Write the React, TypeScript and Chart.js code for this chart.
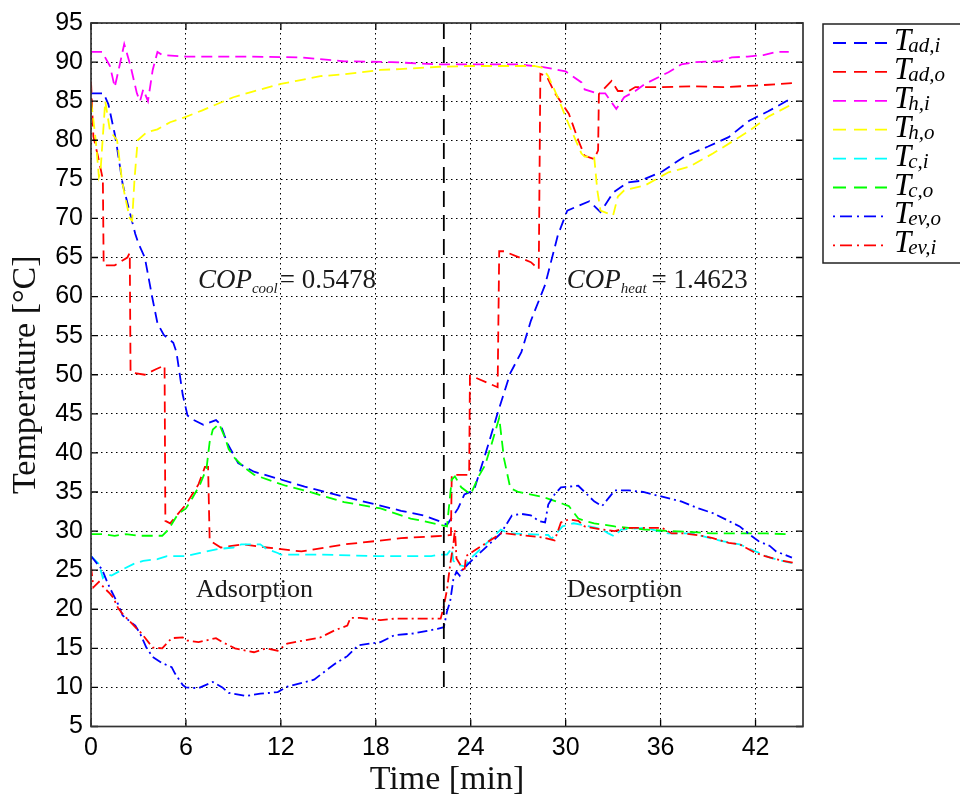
import React, { useEffect, useRef } from "react";
import { Chart, registerables } from "chart.js";

Chart.register(...registerables);

// ---------------- data (time in min, temperature in °C) ----------------
const tAdI = [0, 0.8, 1.1, 1.5, 1.65, 2.0, 2.2, 2.8, 3.0, 3.4, 3.9, 4.2, 4.6, 5.2, 5.4, 5.8, 6.1, 6.4, 7.1, 7.9, 8.2, 8.6, 9.3, 10.3, 12, 13.5, 15.8, 18, 19.6, 21, 22.1, 22.5, 23.2, 23.6, 24.2, 25.1, 25.7, 26.5, 27.2, 27.8, 28.7, 29.5, 30.1, 31.5, 32.2, 33.0, 33.9, 34.7, 36.1, 37.5, 39, 40.3, 41.6, 42.8, 44.3];
const vAdI = [86, 86, 84.6, 80.8, 79, 74.4, 72.8, 68, 66.8, 65, 59.6, 56.6, 55.1, 54.1, 52.9, 47.4, 44.8, 44.3, 43.6, 44.2, 43.6, 41.3, 38.7, 37.6, 36.6, 35.7, 34.5, 33.4, 32.6, 32, 31.2, 30.8, 32.9, 34.7, 35.2, 41, 45.1, 50.2, 52.9, 56.9, 61.5, 67.8, 71, 72.2, 70.8, 73.3, 74.6, 74.8, 76, 77.9, 79.2, 80.4, 82.5, 83.7, 85.4];

const tAdO = [0, 0.15, 0.5, 0.75, 0.8, 1.5, 2.3, 2.45, 2.5, 3.4, 4.1, 4.65, 4.7, 5.0, 6.0, 6.8, 7.2, 7.4, 7.5, 8.2, 9.6, 11.1, 13.3, 16, 17.9, 19.6, 22.3, 22.75, 22.8, 23.9, 23.95, 24.0, 25.7, 25.8, 26.1, 27.8, 28.3, 28.4, 28.8, 29.3, 30.2, 30.8, 31.2, 31.8, 32.05, 32.1, 32.9, 33.3, 34.0, 34.4, 36, 38, 40, 42, 44.3];
const vAdO = [87.5, 80.5, 77.4, 75, 64, 64, 65, 65.6, 50.3, 50, 50.7, 51.2, 31.3, 31, 33.4, 36, 38.2, 38.2, 28.8, 27.9, 28.3, 27.9, 27.4, 28.3, 28.7, 29.1, 29.4, 29.5, 37.2, 37.2, 49.9, 49.9, 48.4, 65.8, 65.8, 64.4, 63.5, 88.5, 88.2, 86.1, 83.4, 80, 78, 77.6, 78.7, 85.9, 87.6, 86.3, 86.3, 86.8, 86.8, 86.9, 86.8, 87, 87.3];

const tHI = [0, 0.7, 1.2, 1.5, 1.8, 2.1, 2.5, 2.9, 3.1, 3.3, 3.6, 3.9, 4.2, 4.5, 6, 10, 13.3, 16, 19, 22, 27, 28.5, 30, 31, 31.2, 32, 32.5, 33.2, 33.7, 34.4, 35, 36, 36.5, 37.3, 38.2, 39.7, 40.5, 41.5, 42.5, 43.3, 44.1];
const vHI = [91.3, 91.3, 89.5, 86.8, 89.5, 92.3, 89.5, 86, 85, 86.5, 85, 89, 91.3, 90.9, 90.7, 90.7, 90.6, 90.1, 90, 89.7, 89.7, 89.4, 88.8, 87.4, 86.5, 86, 86, 84, 85.5, 86.3, 87.2, 88.2, 88.7, 89.7, 90, 90.1, 90.6, 90.7, 90.9, 91.3, 91.3];

const tHO = [0, 0.1, 0.3, 0.5, 0.6, 0.9, 1.2, 1.65, 1.95, 2.15, 2.45, 2.6, 2.75, 2.95, 3.5, 4.2, 5, 6, 7, 9, 10, 12, 13, 14.5, 15.8, 18.3, 19.5, 22, 24, 28, 28.5, 28.9, 29.5, 30.2, 31, 31.2, 31.8, 32.0, 32.2, 33.0, 33.3, 33.7, 35, 36.5, 37.8, 39.3, 40.5, 41.6, 42.8, 44.3];
const vHO = [85, 83.5, 80, 75.3, 76, 85, 81.2, 80, 75, 72.8, 70, 69.7, 75, 80, 81, 81.4, 82.3, 83, 83.8, 85.5, 86.1, 87.2, 87.6, 88.2, 88.4, 89, 89.1, 89.4, 89.5, 89.5, 89.3, 88.2, 85.5, 82, 78.3, 77.9, 77.9, 73.6, 71, 70.4, 72.8, 73.6, 74.2, 75.9, 76.6, 78.3, 79.8, 81.2, 83, 84.6];

const tCI = [0, 0.5, 0.75, 1.0, 1.3, 2.0, 2.7, 3.3, 4.2, 4.8, 6.0, 6.9, 8.0, 9.0, 9.5, 10.7, 11.1, 11.8, 12, 14.5, 18, 21.5, 22.1, 22.5, 22.8, 22.9, 23.2, 23.6, 24.0, 25.9, 26.4, 28.9, 29.1, 29.8, 30.5, 31.5, 32.2, 32.7, 33.1, 33.5, 35, 36.5, 38, 39.9, 41, 42, 42.9, 43.7, 44.3];
const vCI = [26.8, 25.8, 24, 24.5, 24.3, 25.1, 25.8, 26.2, 26.4, 26.8, 26.8, 27.2, 27.7, 27.9, 28.3, 28.3, 27.7, 27.2, 27, 27, 26.8, 26.8, 27, 27, 27.8, 26.2, 25.7, 25.5, 26.5, 30.2, 29.7, 29.5, 29, 30.6, 31, 30.6, 30.3, 29.7, 29.3, 30.2, 30.4, 29.7, 29.7, 28.7, 28.3, 27.4, 26.6, 26.2, 25.9];

const tCO = [0, 0.7, 1.5, 2.2, 3.0, 4.5, 4.9, 5.5, 6.0, 6.4, 6.9, 7.3, 7.5, 7.7, 8.1, 8.5, 8.7, 9.1, 9.6, 10.3, 12.3, 13.5, 16, 18.3, 20.2, 21, 22.5, 22.8, 23.0, 23.4, 24.0, 24.5, 24.9, 25.3, 25.8, 26.1, 26.5, 27.0, 28.5, 29.1, 29.8, 30.2, 30.8, 31.2, 31.8, 33.1, 35, 36.5, 37.8, 39.3, 41, 42.7, 43.9];
const vCO = [29.6, 29.6, 29.4, 29.6, 29.4, 29.4, 30.2, 32.2, 32.9, 34.2, 36, 38, 41.4, 43, 43.7, 41.8, 40.5, 39.3, 38.3, 37.2, 35.8, 35.2, 33.7, 32.9, 31.6, 31.3, 30.6, 36.6, 37, 35.6, 34.7, 37, 38.4, 41, 44.5, 39.3, 35.5, 35, 34.4, 34, 33.5, 33.2, 31.6, 31.3, 31, 30.6, 30.2, 30, 29.9, 29.7, 29.7, 29.7, 29.6];

const tEvO = [0, 0.4, 0.7, 1.0, 1.2, 1.7, 2.0, 2.8, 3.1, 3.5, 3.9, 4.5, 5.1, 5.3, 5.8, 6.0, 6.8, 7.7, 8.3, 8.7, 9.8, 10.7, 11.8, 12.4, 14.1, 15.4, 16.2, 16.9, 18.3, 19.2, 20.4, 21.9, 22.3, 22.5, 22.7, 22.9, 23.1, 23.3, 23.4, 23.8, 24.2, 25.9, 26.6, 27.2, 27.8, 28.3, 28.7, 28.9, 29.3, 29.7, 30.8, 31.8, 32.3, 33.1, 34, 34.9, 36.1, 37.3, 38.4, 39.3, 40.3, 41, 41.6, 42.2, 42.9, 43.3, 44.3];
const vEvO = [26.8, 25.8, 25.1, 23.6, 22.7, 20.7, 19.2, 17.9, 16.9, 15.1, 13.9, 13.1, 12.6, 11.8, 10.3, 10, 9.9, 10.7, 10, 9.3, 8.9, 9.2, 9.4, 10.1, 11, 13, 14, 15.4, 15.8, 16.7, 16.9, 17.5, 17.7, 19.7, 21, 23.8, 24.8, 24.3, 24.9, 25.7, 26.5, 29.7, 32, 32.2, 32, 31.3, 31.1, 33.4, 34.7, 35.6, 35.8, 33.8, 33.2, 35.2, 35.2, 35, 34.4, 33.8, 32.9, 32.3, 31.3, 30.6, 29.6, 28.7, 28.1, 27.4, 26.6];

const tEvI = [0, 0.15, 0.5, 0.9, 1.2, 1.4, 1.7, 2.0, 2.8, 3.2, 3.9, 4.5, 5.1, 5.8, 6.1, 6.8, 7.9, 8.3, 9.1, 10.3, 11.1, 11.8, 12.4, 14.5, 15.4, 16.2, 16.4, 17, 18.3, 19.2, 22.1, 22.3, 22.5, 22.7, 22.9, 23.0, 23.1, 23.6, 23.7, 25.9, 26.2, 28.5, 29.3, 29.7, 30.2, 30.8, 31.2, 32.3, 33.1, 33.8, 36.1, 36.7, 37.5, 38.6, 39.3, 40.3, 41, 42, 42.6, 43.7, 44.5];
const vEvI = [25.5, 22.8, 23.5, 22.6, 22, 21.5, 20.2, 19.4, 17.7, 16.9, 15.1, 15, 16.3, 16.4, 16, 15.8, 16.3, 15.8, 15, 14.5, 15, 14.7, 15.6, 16.4, 17.3, 17.9, 18.9, 18.9, 18.6, 18.8, 18.8, 20.4, 22.5, 25.7, 28.3, 30.2, 26.5, 24.8, 26.8, 29.7, 29.7, 29.2, 28.8, 31.1, 31.5, 31.3, 30.6, 30.2, 30, 30.4, 30.4, 29.7, 29.7, 29.4, 29.1, 28.5, 28.3, 27.2, 26.8, 26.2, 25.9];

const switchTime = 22.3;
const switchRange = [95, 10];

const xTicks = [0, 6, 12, 18, 24, 30, 36, 42];
const yTicks = [5, 10, 15, 20, 25, 30, 35, 40, 45, 50, 55, 60, 65, 70, 75, 80, 85, 90, 95];

const legendSubs = ["ad,i", "ad,o", "h,i", "h,o", "c,i", "c,o", "ev,o", "ev,i"];

const copCool = "0.5478";
const copHeat = "1.4623";
const copCoolAt = [6.76, 61.1];
const copHeatAt = [30.07, 61.1];
const adsAt = [6.64, 21.6];
const desAt = [30.07, 21.6];

// ---------------- styles ----------------
const SERIF = '"Liberation Serif", "Times New Roman", serif';
const SANS = '"Liberation Sans", Arial, Helvetica, sans-serif';
const DASH = [11, 6];
const DASHDOT = [10, 4, 2, 4];

const series = [
  { t: tAdI, v: vAdI, color: "#0000ff", dash: DASH },
  { t: tAdO, v: vAdO, color: "#ff0000", dash: DASH },
  { t: tHI, v: vHI, color: "#ff00ff", dash: DASH },
  { t: tHO, v: vHO, color: "#ffff00", dash: DASH },
  { t: tCI, v: vCI, color: "#00ffff", dash: DASH },
  { t: tCO, v: vCO, color: "#00ff00", dash: DASH },
  { t: tEvO, v: vEvO, color: "#0000ff", dash: DASHDOT },
  { t: tEvI, v: vEvI, color: "#ff0000", dash: DASHDOT },
];

function pts(t: number[], v: number[]) {
  return t.map((x, i) => ({ x, y: v[i] }));
}

function drawMath(
  ctx: CanvasRenderingContext2D,
  x: number,
  y: number,
  main: string,
  sub: string,
  rest: string,
  mainSize: number,
  subSize: number,
  subDrop: number,
  subShift: number,
  restGap: number
) {
  ctx.font = `italic ${mainSize}px ${SERIF}`;
  ctx.fillText(main, x, y);
  let cx = x + ctx.measureText(main).width + subShift;
  ctx.font = `italic ${subSize}px ${SERIF}`;
  ctx.fillText(sub, cx, y + subDrop);
  cx += ctx.measureText(sub).width;
  if (rest) {
    ctx.font = `${mainSize}px ${SERIF}`;
    ctx.fillText(rest, cx + restGap, y);
  }
}

const overlay = {
  id: "overlay",
  afterDraw(chart: any) {
    const { ctx, chartArea: a, scales } = chart;
    const xs = scales.x;
    const ys = scales.y;
    ctx.save();
    ctx.setLineDash([]);
    // inward tick marks
    ctx.strokeStyle = "#000";
    ctx.lineWidth = 1.3;
    ctx.beginPath();
    for (const v of yTicks) {
      const y = ys.getPixelForValue(v);
      ctx.moveTo(a.left, y);
      ctx.lineTo(a.left + 7, y);
      ctx.moveTo(a.right, y);
      ctx.lineTo(a.right - 7, y);
    }
    for (const v of xTicks) {
      const x = xs.getPixelForValue(v);
      ctx.moveTo(x, a.bottom);
      ctx.lineTo(x, a.bottom - 7);
      ctx.moveTo(x, a.top);
      ctx.lineTo(x, a.top + 7);
    }
    ctx.stroke();
    // frame
    ctx.lineWidth = 1.7;
    ctx.strokeStyle = "#333";
    ctx.strokeRect(a.left, a.top, a.right - a.left, a.bottom - a.top);

    // annotations
    ctx.fillStyle = "#1a1a1a";
    ctx.textBaseline = "alphabetic";
    ctx.textAlign = "left";
    drawMath(ctx, xs.getPixelForValue(copCoolAt[0]), ys.getPixelForValue(copCoolAt[1]), "COP", "cool", "= " + copCool, 27, 15, 5, 0, 2);
    drawMath(ctx, xs.getPixelForValue(copHeatAt[0]), ys.getPixelForValue(copHeatAt[1]), "COP", "heat", "= " + copHeat, 27, 15, 5, 0, 5);
    ctx.font = `26px ${SERIF}`;
    ctx.fillText("Adsorption", xs.getPixelForValue(adsAt[0]), ys.getPixelForValue(adsAt[1]));
    ctx.fillText("Desorption", xs.getPixelForValue(desAt[0]), ys.getPixelForValue(desAt[1]));

    // legend
    const lx = a.right + 20;
    const ly = a.top + 1;
    ctx.lineWidth = 1.5;
    ctx.strokeStyle = "#222";
    ctx.strokeRect(lx, ly, 180, 239);
    series.forEach((s, i) => {
      const y = ly + 19 + i * 28.9;
      ctx.save();
      ctx.strokeStyle = s.color;
      ctx.lineWidth = 1.8;
      ctx.setLineDash(s.dash === DASH ? [13, 8] : [2, 5, 12, 5]);
      ctx.beginPath();
      ctx.moveTo(lx + 10, y);
      ctx.lineTo(lx + 64, y);
      ctx.stroke();
      ctx.restore();
      ctx.fillStyle = "#000";
      drawMath(ctx, lx + 71, y + 7, "T", legendSubs[i], "", 31, 21, 2, -3, 0);
    });
    ctx.restore();
  },
};

export default function App() {
  const ref = useRef<HTMLCanvasElement>(null);

  useEffect(() => {
    const datasets: any[] = series.map((s, i) => ({
      data: pts(s.t, s.v),
      borderColor: s.color,
      backgroundColor: s.color,
      borderDash: s.dash,
      borderWidth: 1.8,
      pointRadius: 0,
      tension: 0,
      fill: false,
      order: -i,
    }));
    datasets.push({
      data: [
        { x: switchTime, y: switchRange[0] },
        { x: switchTime, y: switchRange[1] },
      ],
      borderColor: "#000",
      borderDash: [16, 8],
      borderWidth: 1.8,
      pointRadius: 0,
      fill: false,
      order: -20,
    });

    const chart = new Chart(ref.current as HTMLCanvasElement, {
      type: "line",
      data: { datasets },
      options: {
        responsive: false,
        maintainAspectRatio: false,
        devicePixelRatio: 1,
        animation: false,
        events: [],
        layout: { padding: { top: 18, right: 157, bottom: 0, left: 0 } },
        plugins: { legend: { display: false }, tooltip: { enabled: false } },
        scales: {
          x: {
            type: "linear",
            min: 0,
            max: 45,
            afterBuildTicks: (s: any) => {
              s.ticks = xTicks.map((v) => ({ value: v }));
            },
            afterFit: (s: any) => {
              s.height = 75.5;
            },
            grid: { color: "#000", lineWidth: 1, drawTicks: false },
            border: { display: false, dash: [1.5, 3.5] },
            ticks: {
              font: { family: SANS, size: 25 },
              color: "#000",
              padding: 7,
              maxRotation: 0,
              autoSkip: false,
            },
            title: {
              display: true,
              text: "Time [min]",
              font: { family: SERIF, size: 34 },
              color: "#111",
              padding: { top: 0, bottom: 2 },
            },
          },
          y: {
            type: "linear",
            min: 5,
            max: 95,
            afterBuildTicks: (s: any) => {
              s.ticks = yTicks.map((v) => ({ value: v }));
            },
            afterFit: (s: any) => {
              s.width = 91;
            },
            grid: { color: "#000", lineWidth: 1, drawTicks: false },
            border: { display: false, dash: [1.5, 3.5] },
            ticks: {
              font: { family: SANS, size: 25 },
              color: "#000",
              padding: 8,
              autoSkip: false,
            },
            title: {
              display: true,
              text: "Temperature [°C]",
              font: { family: SERIF, size: 34 },
              color: "#111",
              padding: { top: 6, bottom: 0 },
            },
          },
        },
      },
      plugins: [overlay],
    } as any);
    return () => chart.destroy();
  }, []);

  return (
    <div style={{ position: "absolute", left: 0, top: 0, width: 960, height: 802, background: "#fff" }}>
      <canvas ref={ref} width={960} height={802} style={{ display: "block", width: 960, height: 802 }} />
    </div>
  );
}
